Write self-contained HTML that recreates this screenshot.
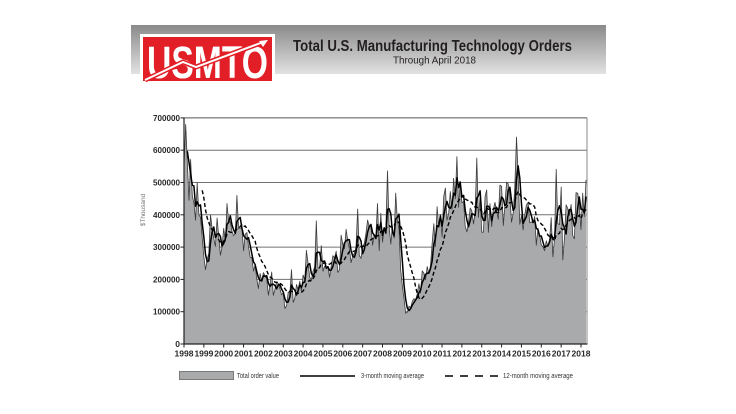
<!DOCTYPE html>
<html><head><meta charset="utf-8">
<style>
html,body{margin:0;padding:0;background:#fff;}
svg{display:block;}
text{font-family:"Liberation Sans",sans-serif;}
</style></head><body>
<svg id="c" width="736" height="414" viewBox="0 0 736 414" xmlns="http://www.w3.org/2000/svg">
<defs>
<linearGradient id="bg" x1="0" y1="0" x2="0" y2="1">
<stop offset="0" stop-color="#8a8a8a"/><stop offset="1" stop-color="#e2e2e2"/>
</linearGradient>
</defs>
<rect width="736" height="414" fill="#fff"/>
<!-- banner -->
<rect x="131" y="25" width="475" height="49" fill="url(#bg)"/>
<rect x="140" y="34" width="135" height="50" fill="#fff"/>
<rect x="143" y="37" width="129" height="44" fill="#e21f26"/>
<text x="147" y="78" font-size="45" font-weight="bold" fill="#fff" textLength="121" lengthAdjust="spacingAndGlyphs">USMTO</text>
<polyline points="145,80 183,62 196,67 266,41" fill="none" stroke="#e21f26" stroke-width="5"/>
<polyline points="145,80 183,62 196,67 266,41" fill="none" stroke="#fff" stroke-width="2"/>
<polygon points="268,40 259,41 263,47" fill="#fff"/>
<text x="293" y="51" font-size="16" font-weight="bold" fill="#231f20" textLength="279" lengthAdjust="spacingAndGlyphs">Total U.S. Manufacturing Technology Orders</text>
<text x="393" y="63.5" font-size="10.5" fill="#231f20" textLength="83" lengthAdjust="spacingAndGlyphs">Through April 2018</text>

<!-- grid -->
<g stroke="#707070" stroke-width="1">
<line x1="184" x2="587" y1="311.7" y2="311.7"/>
<line x1="184" x2="587" y1="279.4" y2="279.4"/>
<line x1="184" x2="587" y1="247.1" y2="247.1"/>
<line x1="184" x2="587" y1="214.8" y2="214.8"/>
<line x1="184" x2="587" y1="182.5" y2="182.5"/>
<line x1="184" x2="587" y1="150.2" y2="150.2"/>
</g>
<line x1="184" x2="587" y1="117.9" y2="117.9" stroke="#555" stroke-width="1"/>
<line x1="587" x2="587" y1="117.9" y2="344" stroke="#888" stroke-width="1"/>

<path id="area" fill="#a9aaac" d=""/>
<path id="raw" fill="none" stroke="#3c3c3c" stroke-width="0.8" stroke-linejoin="round" d=""/>
<path id="m12" fill="none" stroke="#000" stroke-width="1.4" stroke-dasharray="4 2.5" d=""/>
<path id="m3" fill="none" stroke="#000" stroke-width="1.5" stroke-linejoin="round" d=""/>

<!-- axes -->
<line x1="184" x2="184" y1="117.5" y2="344.5" stroke="#222" stroke-width="1.2"/>
<line x1="183.5" x2="587.5" y1="344" y2="344" stroke="#222" stroke-width="1.2"/>
<g stroke="#222" stroke-width="1">
<line x1="180.5" x2="184" y1="344" y2="344"/>
<line x1="180.5" x2="184" y1="311.7" y2="311.7"/>
<line x1="180.5" x2="184" y1="279.4" y2="279.4"/>
<line x1="180.5" x2="184" y1="247.1" y2="247.1"/>
<line x1="180.5" x2="184" y1="214.8" y2="214.8"/>
<line x1="180.5" x2="184" y1="182.5" y2="182.5"/>
<line x1="180.5" x2="184" y1="150.2" y2="150.2"/>
<line x1="180.5" x2="184" y1="117.9" y2="117.9"/>
</g>
<g id="xt" stroke="#222" stroke-width="1"></g>

<g font-size="8.5" font-weight="bold" fill="#2a2a2a" text-anchor="end">
<text x="180" y="347" >0</text>
<text x="180" y="314.7" textLength="27" lengthAdjust="spacingAndGlyphs">100000</text>
<text x="180" y="282.4" textLength="27" lengthAdjust="spacingAndGlyphs">200000</text>
<text x="180" y="250.1" textLength="27" lengthAdjust="spacingAndGlyphs">300000</text>
<text x="180" y="217.8" textLength="27" lengthAdjust="spacingAndGlyphs">400000</text>
<text x="180" y="185.5" textLength="27" lengthAdjust="spacingAndGlyphs">500000</text>
<text x="180" y="153.2" textLength="27" lengthAdjust="spacingAndGlyphs">600000</text>
<text x="180" y="120.9" textLength="27" lengthAdjust="spacingAndGlyphs">700000</text>
</g>
<text transform="translate(145,210) rotate(-90)" font-size="6.5" fill="#777" text-anchor="middle">$Thousand</text>

<g font-size="8.5" font-weight="bold" fill="#2a2a2a" text-anchor="middle">
<text x="184" y="356.5">1998</text>
<text x="203.9" y="356.5">1999</text>
<text x="223.7" y="356.5">2000</text>
<text x="243.6" y="356.5">2001</text>
<text x="263.4" y="356.5">2002</text>
<text x="283.3" y="356.5">2003</text>
<text x="303.1" y="356.5">2004</text>
<text x="323" y="356.5">2005</text>
<text x="342.8" y="356.5">2006</text>
<text x="362.7" y="356.5">2007</text>
<text x="382.5" y="356.5">2008</text>
<text x="402.4" y="356.5">2009</text>
<text x="422.2" y="356.5">2010</text>
<text x="442.1" y="356.5">2011</text>
<text x="461.9" y="356.5">2012</text>
<text x="481.8" y="356.5">2013</text>
<text x="501.6" y="356.5">2014</text>
<text x="521.5" y="356.5">2015</text>
<text x="541.3" y="356.5">2016</text>
<text x="561.2" y="356.5">2017</text>
<text x="581" y="356.5">2018</text>
</g>

<!-- legend -->
<rect x="179.5" y="371.5" width="54" height="8" fill="#a9aaac" stroke="#7a7a7a" stroke-width="1"/>
<text x="237" y="378" font-size="7" fill="#333" textLength="42" lengthAdjust="spacingAndGlyphs">Total order value</text>
<line x1="300" x2="355" y1="376" y2="376" stroke="#000" stroke-width="1.6"/>
<text x="361" y="378" font-size="7" fill="#333" textLength="63" lengthAdjust="spacingAndGlyphs">3-month moving average</text>
<line x1="445" x2="500" y1="376" y2="376" stroke="#000" stroke-width="1.6" stroke-dasharray="8 7"/>
<text x="503" y="378" font-size="7" fill="#333" textLength="70" lengthAdjust="spacingAndGlyphs">12-month moving average</text>
</svg>
<script>
(function(){
var B=[[1998.0,520],[1998.08,600],[1998.17,560],[1998.3,510],[1998.45,420],[1998.6,400],[1998.8,385],[1998.95,300],[1999.15,285],[1999.4,340],[2000.0,340],[2000.5,345],[2000.67,368],[2000.9,340],[2001.1,310],[2001.3,260],[2001.8,200],[2002.3,178],[2002.8,175],[2003.1,140],[2003.6,158],[2004.1,204],[2004.35,229],[2004.85,260],[2005.35,248],[2005.85,260],[2006.35,285],[2006.85,316],[2007.35,331],[2007.87,347],[2008.28,378],[2008.65,375],[2008.85,330],[2009.0,200],[2009.15,110],[2009.4,115],[2009.7,140],[2009.9,175],[2010.2,230],[2010.4,280],[2010.75,370],[2011.2,420],[2011.7,465],[2011.9,445],[2012.3,420],[2012.75,445],[2013.0,420],[2013.5,415],[2014.0,415],[2014.4,425],[2014.75,455],[2015.0,425],[2015.4,385],[2015.8,355],[2016.3,345],[2016.7,375],[2017.0,365],[2017.5,390],[2018.0,410],[2018.3,440]];
function bl(t){for(var k=0;k<B.length-1;k++){if(t<=B[k+1][0]){var a=B[k],b=B[k+1],f=(t-a[0])/(b[0]-a[0]);return a[1]+f*(b[1]-a[1]);}}return B[B.length-1][1];}
var s=20180412;
function rnd(){s|=0;s=s+0x6D2B79F5|0;var t=Math.imul(s^s>>>15,1|s);t=t+Math.imul(t^t>>>7,61|t)^t;return((t^t>>>14)>>>0)/4294967296;}
var O={1:680,8:500,13:230,16:400,20:390,22:275,26:435,32:460,53:223,61:110,65:230,74:290,80:381,95:337,98:355,105:418,111:384,117:435,119:405,123:536,128:467,134:95,135:98,147:240,158:483,165:580,177:576,183:477,191:492,195:501,201:641,202:530,207:430,213:306,223:270,225:541,228:486,229:260,238:467,241:467,243:508};
var N=244,raw=[];
for(var i=0;i<N;i++){var t=1998+i/12;var b=bl(t);var v=b*(1+0.36*(rnd()-0.5));if(O[i]!==undefined)v=O[i];if(v<0)v=0;raw.push(v);}
function X(i){return 184+i*19.85/12;}
function Y(v){return 344-v*0.323;}
var d="",a="M184,344";
for(i=0;i<N;i++){var p=X(i).toFixed(1)+","+Y(raw[i]).toFixed(1);d+=(i?"L":"M")+p;a+="L"+p;}
a+="L"+X(N-1).toFixed(1)+",344Z";
document.getElementById("area").setAttribute("d",a);
document.getElementById("raw").setAttribute("d",d);
var m3="",m12="";
for(i=2;i<N;i++){var v3=(raw[i]+raw[i-1]+raw[i-2])/3;m3+=(i>2?"L":"M")+X(i).toFixed(1)+","+Y(v3).toFixed(1);}
for(i=11;i<N;i++){var sm=0;for(var j=i-11;j<=i;j++)sm+=raw[j];m12+=(i>11?"L":"M")+X(i).toFixed(1)+","+Y(sm/12).toFixed(1);}
document.getElementById("m3").setAttribute("d",m3);
document.getElementById("m12").setAttribute("d",m12);
var g=document.getElementById("xt"),ns="http://www.w3.org/2000/svg";
for(var y=0;y<=20;y++){var l=document.createElementNS(ns,"line");var x=X(y*12);l.setAttribute("x1",x);l.setAttribute("x2",x);l.setAttribute("y1",344);l.setAttribute("y2",347.5);g.appendChild(l);}
})();
</script>
</body></html>
